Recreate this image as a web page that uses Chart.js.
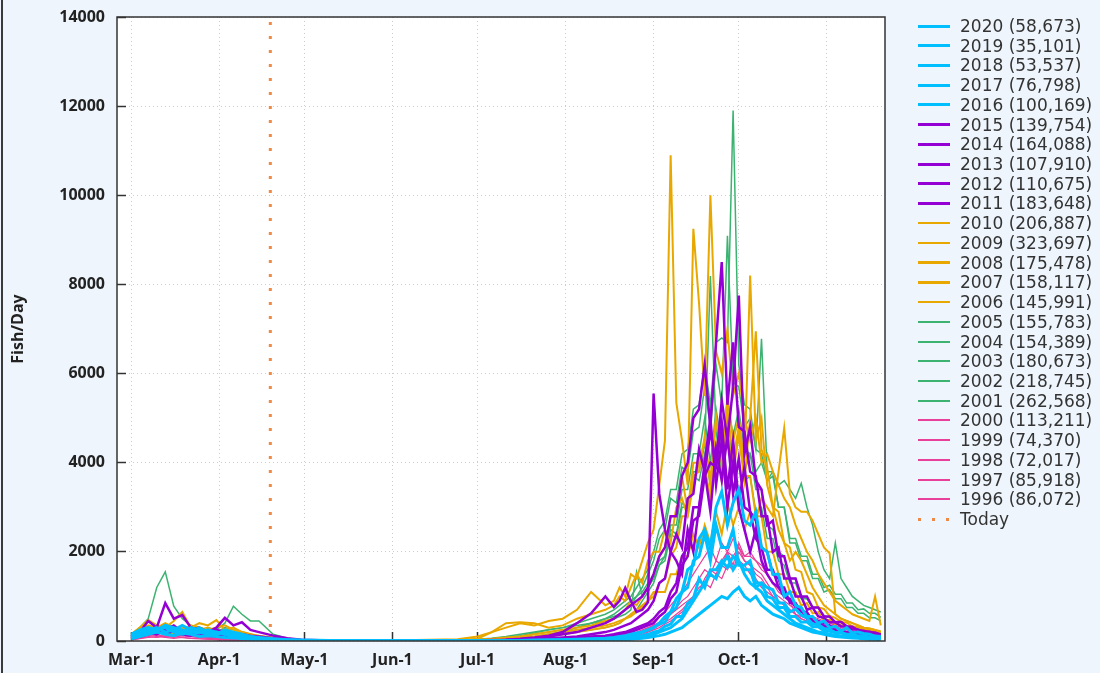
<!DOCTYPE html>
<html>
<head>
<meta charset="utf-8">
<script src="https://cdn.jsdelivr.net/npm/chart.js@4.4.1/dist/chart.umd.min.js"></script>
<style>
  html, body { margin: 0; padding: 0; }
  body { width: 1100px; height: 673px; background: #eef5fc; position: relative; overflow: hidden; font-family: "DejaVu Sans", sans-serif; }
  #wrap { position: absolute; left: 0; top: 0; width: 1100px; height: 673px; }
  #edge { position: absolute; left: 1px; top: 0; width: 2px; height: 673px; background: #3a3a3a; }
  #legend { position: absolute; left: 0; top: 0; }
  .item { position: absolute; left: 918px; width: 182px; height: 20px; }
  .swatch { position: absolute; left: 0; width: 32px; }
  .lbl { position: absolute; left: 42px; top: 0; line-height: 20px; font-size: 17px; color: #333; white-space: nowrap; }
</style>
</head>
<body>
<div id="wrap"><canvas id="chart"></canvas></div>
<div id="edge"></div>
<div id="legend"></div>
<script>
// x values are days counted from Mar-1
const days = [0,3,6,9,12,15,18,21,24,27,30,33,36,39,42,45,50,55,60,70,
  85,100,115,
  122,127,132,137,142,147,152,157,162,167,
  170,172,174,176,178,180,182,184,186,188,190,192,194,196,198,200,202,204,206,208,210,212,214,216,
  218,220,222,224,226,228,230,232,234,236,238,240,242,244,246,248,250,252,254,256,258,260,262,264];

const tickDays = [0,31,61,92,122,153,184,214,245];
const tickLabels = ['Mar-1','Apr-1','May-1','Jun-1','Jul-1','Aug-1','Sep-1','Oct-1','Nov-1'];
const todayDay = 49;

const years = [2020,2019,2018,2017,2016,2015,2014,2013,2012,2011,2010,2009,2008,2007,2006,2005,2004,2003,2002,2001,2000,1999,1998,1997,1996];
const totals = [58673,35101,53537,76798,100169,139754,164088,107910,110675,183648,206887,323697,175478,158117,145991,155783,154389,180673,218745,262568,113211,74370,72017,85918,86072];

const y2020 = [120,200,300,250,350,300,250,200,300,200,150,200,150,120,100,60,40,20,10,5,
  0,0,0, 0,0,0,0,10,10,20,20,30,40,
  40,50,60,80,100,120,150,200, 230,330,380,550,550,850,950,1400, 1200,1600,1600,1800,1650,1900,1750,1600,
  1600,1200,1300,1200,1150,850,850,650, 720,580,520,380,370,280,260,190, 190,150,150,110,110,85,85,70];
const y2019 = [50,100,150,200,150,120,180,150,100,120,100,80,70,50,40,30,20,10,5,0,
  0,0,0, 0,0,0,0,0,10,10,10,20,20,
  20,30,30,40,50,60,80,100, 120,150,200,250,300,400,500,600, 700,800,900,1000,950,1100,1200,1000,
  900,1000,800,700,600,550,500,400, 350,300,250,200,180,150,120,100, 90,80,70,60,50,40,40,30];
const y2018 = [80,150,200,250,300,200,150,200,180,250,200,150,120,100,80,50,30,20,10,5,
  0,0,0, 0,0,0,0,10,10,10,20,20,30,
  30,40,50,60,80,100,120,150, 200,250,300,400,500,700,900,1100, 1300,1500,1400,1700,1900,1600,1800,1500,
  1300,1200,1100,900,800,700,600,500, 400,350,300,250,200,180,150,130, 120,100,90,80,70,60,50,40];
const y2017 = [100,200,250,300,200,250,350,250,200,150,200,150,100,100,80,60,40,20,10,5,
  0,0,0, 0,0,0,10,10,20,20,30,40,50,
  60,70,90,120,150,200,250,300, 380,420,650,750,1100,1200,1800,1900, 2400,1800,2600,2100,2100,2500,1700,1700,
  1800,1300,1300,1000,950,750,750,550, 550,420,430,320,320,230,220,190, 190,140,140,110,110,85,85,70];
const y2016 = [150,250,300,200,350,250,200,300,250,200,150,250,200,150,100,80,50,30,20,10,
  0,0,0, 0,0,10,10,20,20,30,40,50,60,
  80,100,120,150,180,200,250,300, 400,550,650,950,1100,1600,1700,2300, 2500,2100,3000,3350,2600,3100,3400,2700,
  2600,2900,2100,2000,1500,1500,1000,1100, 800,750,550,550,400,450,300,330, 220,300,180,200,170,150,110,100];
const y2015 = [100,200,450,300,850,500,580,300,250,200,300,520,350,420,250,200,120,60,30,10,
  0,0,0, 10,20,30,50,80,120,200,400,620,1000,
  760,900,1190,900,650,700,870,5550, 3300,2500,2000,1800,1500,2500,2000,3000, 4000,5000,3500,4500,3000,4000,3000,2500,
  2000,2500,1800,1500,1300,1200,1000,900, 800,700,600,500,450,400,350,300, 250,200,180,160,140,120,100,80];
const y2014 = [50,150,200,250,300,250,200,300,250,200,150,200,180,150,120,100,60,30,10,5,
  0,0,0, 0,10,20,30,40,60,80,100,150,200,
  250,300,350,400,500,600,700,900, 1300,1400,2000,2400,2100,3200,3300,4300, 3800,4700,4000,5400,4500,5700,7750,4200,
  4800,3600,3400,2600,2700,1900,1900,1400, 1400,1000,1000,750,750,550,550,420, 430,330,320,240,230,190,190,140];
const y2013 = [80,120,200,150,250,200,150,200,150,120,100,150,100,80,60,50,30,20,10,5,
  0,0,0, 0,0,10,20,30,40,60,80,100,120,
  150,180,200,250,300,350,400,500, 650,750,1100,1300,1900,2100,3000,3000, 3800,2900,4300,3600,4600,3300,4100,3000,
  2900,2300,2100,1600,1600,1200,1200,850, 850,650,650,450,420,330,320,230, 210,170,170,130,130,95,95,80];
const y2012 = [60,100,150,200,180,220,150,120,200,150,100,120,90,70,50,40,20,10,5,0,
  0,0,0, 0,0,0,10,20,30,50,70,90,110,
  130,150,180,200,250,300,350,400, 550,650,950,1100,1700,1900,2700,2800, 3700,4000,3900,4900,3400,4500,3100,3900,
  2900,2700,2100,2000,1500,1400,1000,950, 750,700,500,480,350,340,260,250, 190,190,140,140,100,105,85,70];
const y2011 = [70,150,200,300,250,350,200,250,300,200,250,200,150,120,100,80,50,20,10,5,
  0,0,0, 0,10,20,40,60,100,150,200,300,400,
  500,600,700,800,900,1000,1200,1500, 1900,2100,2800,2800,3700,4000,5000,5200, 6200,4800,6700,8500,5300,6700,4800,4700,
  3800,3700,2800,2800,2000,2100,1400,1400, 1000,1000,700,750,550,520,420,420, 330,320,260,260,200,210,170,150];
const y2010 = [100,250,350,300,400,300,250,350,300,250,300,350,250,200,150,100,60,30,10,5,
  0,10,20, 50,200,400,420,400,300,350,500,600,700,
  800,1000,900,1200,1500,1300,1800,2000, 2000,2500,2200,3000,3200,2800,3500,4000, 4500,3500,5000,4000,5500,4500,5000,4000,
  8200,4500,5000,3500,3000,2500,2200,1800, 2000,1800,1500,1200,1000,800,700,600, 500,450,400,350,300,280,250,200];
const y2009 = [150,300,470,350,300,450,650,300,400,350,470,250,300,200,150,120,80,40,20,5,
  10,20,40, 100,200,300,400,350,450,500,700,1100,800,
  900,1200,1000,1500,1400,1800,2200,2500, 3500,4500,10900,5340,4500,3500,9250,7580, 5500,10000,6500,6000,7000,5500,6000,5000,
  4500,5000,4000,4200,3800,3500,3200,3000, 2600,2300,2000,1800,1500,1300,1100,900, 800,700,600,550,500,450,1000,350];
const y2008 = [80,150,200,250,200,300,250,200,250,300,200,150,150,100,80,60,40,20,10,5,
  0,0,10, 30,50,80,100,150,200,250,300,350,450,
  500,600,700,900,800,1000,1200,1500, 1900,2100,2800,2800,3700,2900,4000,4000, 3900,3200,4400,3600,4700,3800,4600,3600,
  5000,6950,4300,3900,3000,2900,2200,2100, 1600,1550,1100,1050,750,720,560,520, 430,410,330,310,270,260,210,200];
const y2007 = [50,120,180,200,250,180,220,150,200,250,180,120,100,80,60,40,20,10,5,0,
  0,0,0, 20,40,60,80,100,150,200,250,300,350,
  400,450,500,600,700,800,900,1100, 1100,1100,1500,1500,1900,1900,2400,2100, 2600,2200,2900,2400,3100,2600,3000,2500,
  2900,2700,3200,3000,2800,3800,4780,3300, 3000,2900,2900,2700,2400,2100,1970,600, 500,450,400,350,300,280,250,220];
const y2006 = [60,100,150,200,250,200,300,250,200,150,200,150,120,100,80,50,30,20,10,5,
  0,0,0, 10,20,40,60,80,100,150,200,250,300,
  350,400,500,550,650,750,900,1000, 1300,1400,1900,2100,2800,2800,3700,3800, 4600,3600,5000,4000,5200,4100,4800,3700,
  3700,2800,2800,2000,2000,1500,1500,1100, 1100,800,850,620,650,450,480,370, 370,280,290,230,230,190,190,150];
const y2005 = [60,120,180,150,200,250,180,150,200,250,200,150,120,100,80,60,40,20,10,5,
  0,0,0, 20,30,50,80,100,150,200,300,400,450,
  500,550,600,700,1550,1000,1200,1400, 1700,1800,2400,2300,3000,3000,3800,3800, 4400,8190,4700,3800,5000,4000,4700,3600,
  3700,2900,3000,2300,2300,1800,1700,1300, 1300,950,950,750,750,570,530,430, 420,330,320,270,260,210,210,170];
const y2004 = [150,300,500,1200,1550,780,500,350,300,250,200,250,200,150,120,80,50,30,10,5,
  0,0,0, 10,20,40,60,80,120,150,200,250,300,
  350,400,500,600,700,900,1100,1300, 1700,1900,2600,2600,3400,3400,4200,4200, 5000,4000,5200,4400,5400,4600,5200,4300,
  4200,3400,3400,2600,2500,2000,1900,1400, 1400,1000,950,750,750,550,530,420, 420,330,310,270,260,210,210,170];
const y2003 = [50,100,150,200,180,150,200,250,200,300,250,400,780,600,450,450,150,60,20,5,
  0,0,10, 30,50,80,120,180,250,300,350,400,500,
  600,700,800,900,1000,1100,1300,1500, 1800,1900,2500,2400,3100,3000,3700,3600, 4200,3500,4400,3700,4700,3900,4600,3800,
  4200,3800,4000,3600,3800,3500,3600,3400, 3200,3540,3000,2600,2000,1600,1400,2200, 1400,1200,1000,900,800,750,700,650];
const y2002 = [80,150,200,300,250,200,300,250,200,150,200,250,200,150,100,80,50,20,10,5,
  0,0,10, 20,40,60,100,150,200,250,300,400,500,
  550,600,700,800,1000,1200,1500,1800, 2300,2500,3200,3100,3900,3800,4700,4800, 5700,4800,6200,5300,9090,5800,5700,4800,
  5000,4300,6780,3800,3800,3000,3000,2200, 2200,1800,1800,1400,1400,1100,1150,950, 950,750,750,620,620,520,520,450];
const y2001 = [100,200,300,250,300,250,200,250,300,250,200,300,250,200,150,100,60,30,10,5,
  0,10,20, 40,60,100,150,200,250,300,400,500,600,
  700,800,900,1000,1200,1400,1600,2000, 2500,2700,3400,3400,4200,4300,5200,5300, 6200,5300,6700,6800,6700,11900,6200,5300,
  5200,4300,4200,3600,3700,3000,3000,2300, 2300,1900,1900,1500,1500,1200,1250,1050, 1050,850,850,700,720,620,620,530];
const y2000 = [60,100,150,200,150,120,150,120,100,80,60,50,40,30,20,10,5,0,0,0,
  0,0,0, 0,0,10,10,20,30,40,60,80,100,
  120,150,180,220,260,300,380,450, 550,650,800,950,1100,1300,1500,1700, 1900,2100,1800,2200,2000,2300,2100,1900,
  2000,1800,1700,1500,1300,1200,1000,900, 800,700,600,550,500,450,400,350, 300,250,220,200,180,160,140,120];
const y1999 = [20,50,80,100,80,60,80,60,50,40,30,20,20,10,10,5,0,0,0,0,
  0,0,0, 0,0,0,0,0,10,10,20,30,40,
  50,60,80,100,120,150,200,250, 300,380,450,550,650,800,950,1100, 1300,1200,1500,1400,1700,1600,2000,1800,
  1700,1500,1400,1200,1000,900,800,700, 600,550,500,450,400,350,300,250, 200,180,160,140,120,100,90,80];
const y1998 = [40,60,100,80,120,100,80,60,50,40,30,30,20,10,10,5,0,0,0,0,
  0,0,0, 0,0,0,0,10,10,20,30,40,50,
  60,80,100,120,150,180,220,280, 350,420,500,600,700,850,1000,1200, 1300,1500,1400,1700,1600,1900,1800,1700,
  1500,1400,1200,1100,1000,900,800,700, 600,500,450,400,350,300,250,200, 180,160,140,120,100,90,80,70];
const y1997 = [30,80,120,150,100,80,120,100,80,60,50,40,30,20,10,10,5,0,0,0,
  0,0,0, 0,0,0,10,10,20,30,40,50,60,
  80,100,120,150,180,220,280,350, 420,500,600,750,900,1000,1200,1400, 1600,1500,1800,1700,2000,1900,2100,1800,
  1700,1600,1500,1300,1100,1000,900,800, 700,600,500,450,400,350,300,250, 200,180,160,140,120,100,90,80];
const y1996 = [50,100,150,120,100,150,120,100,80,100,80,60,50,40,30,20,10,5,0,0,
  0,0,0, 0,0,10,10,20,30,40,50,60,80,
  100,120,150,180,200,250,300,350, 400,500,600,700,800,900,1000,1100, 1400,1600,1500,1800,2000,1700,2200,1900,
  1900,1800,1600,1500,1300,1100,1000,900, 600,500,450,400,350,300,250,200, 180,160,140,120,100,90,80,70];

const series = [y2020,y2019,y2018,y2017,y2016,y2015,y2014,y2013,y2012,y2011,y2010,y2009,y2008,y2007,y2006,
  y2005,y2004,y2003,y2002,y2001,y2000,y1999,y1998,y1997,y1996];

const todayColor = '#ee8a45';

function styleFor(year) {
  if (year >= 2016) return { color: '#00bfff', width: 3, legendWidth: 3 };
  if (year >= 2011) return { color: '#9400d3', width: 2.5, legendWidth: 3 };
  if (year >= 2006) return { color: '#e8a800', width: 2, legendWidth: 2.5 };
  if (year >= 2001) return { color: '#3cb371', width: 1.5, legendWidth: 2 };
  return { color: '#e8409b', width: 1.2, legendWidth: 2 };
}

const datasets = series.map((vals, i) => {
  const st = styleFor(years[i]);
  const pts = [];
  days.forEach((d, k) => { if (vals[k] !== undefined) pts.push({ x: d, y: vals[k] }); });
  return {
    label: years[i] + ' (' + totals[i].toLocaleString('en-US') + ')',
    data: pts,
    borderColor: st.color,
    backgroundColor: st.color,
    borderWidth: st.width,
    pointRadius: 0,
    fill: false
  };
});

datasets.push({
  label: 'Today',
  data: [{ x: todayDay, y: 0 }, { x: todayDay, y: 14000 }],
  borderColor: todayColor,
  borderWidth: 3,
  borderDash: [3, 11],
  pointRadius: 0,
  fill: false
});

const framePlugin = {
  id: 'frame',
  beforeDraw(c) {
    const a = c.chartArea;
    c.ctx.save();
    c.ctx.fillStyle = '#ffffff';
    c.ctx.fillRect(a.left, a.top, a.right - a.left, a.bottom - a.top);
    c.ctx.restore();
  },
  afterDatasetsDraw(c) {
    const a = c.chartArea, ctx = c.ctx;
    ctx.save();
    ctx.strokeStyle = '#333';
    ctx.lineWidth = 1.5;
    ctx.strokeRect(a.left, a.top, a.right - a.left, a.bottom - a.top);
    ctx.restore();
  }
};

const tickFont = { family: '"Open Sans", sans-serif', size: 16, weight: 'bold' };
const gridOpts = { color: '#cccccc', lineWidth: 1, tickLength: -9, tickColor: '#333', tickWidth: 1.5, tickBorderDash: [] };

const chart = new Chart(document.getElementById('chart'), {
  type: 'line',
  data: { datasets: datasets },
  options: {
    responsive: true,
    maintainAspectRatio: false,
    animation: false,
    layout: { padding: { top: 17, right: 215, bottom: 0, left: 0 } },
    elements: { line: { tension: 0 } },
    plugins: { legend: { display: false }, tooltip: { enabled: false } },
    scales: {
      x: {
        type: 'linear',
        min: -5,
        max: 265.5,
        afterBuildTicks: s => { s.ticks = tickDays.map(v => ({ value: v })); },
        afterFit: s => { s.height = 32; },
        grid: gridOpts,
        border: { display: false, dash: [1, 3] },
        ticks: {
          padding: 19,
          color: '#222',
          font: tickFont,
          maxRotation: 0,
          autoSkip: false,
          callback: v => tickLabels[tickDays.indexOf(v)]
        }
      },
      y: {
        min: 0,
        max: 14000,
        // labels sit 12px left of the frame; keep that padding from pushing the plot down
        afterFit: s => { s.width = 117; s.paddingTop = 0; s.paddingBottom = 0; },
        grid: gridOpts,
        border: { display: false, dash: [1, 3] },
        ticks: { stepSize: 2000, padding: 21, color: '#222', font: tickFont, callback: v => String(v) },
        title: {
          display: true,
          text: 'Fish/Day',
          color: '#222',
          font: { family: '"Open Sans", sans-serif', size: 16, weight: 'bold' },
          padding: { top: 9, bottom: 0 }
        }
      }
    }
  },
  plugins: [framePlugin]
});

// legend, built from the same labels and colours
const legend = document.getElementById('legend');
datasets.forEach((ds, i) => {
  const item = document.createElement('div');
  item.className = 'item';
  item.style.top = (26 + i * 19.72 - 10) + 'px';
  const sw = document.createElement('div');
  sw.className = 'swatch';
  if (ds.label === 'Today') {
    sw.style.height = '3px';
    sw.style.top = '8.5px';
    sw.style.background = 'repeating-linear-gradient(to right, ' + todayColor + ' 0 3px, transparent 3px 14px)';
  } else {
    const lw = styleFor(years[i]).legendWidth;
    sw.style.height = lw + 'px';
    sw.style.top = (10 - lw / 2) + 'px';
    sw.style.background = ds.borderColor;
  }
  const lbl = document.createElement('div');
  lbl.className = 'lbl';
  lbl.textContent = ds.label;
  item.appendChild(sw);
  item.appendChild(lbl);
  legend.appendChild(item);
});
</script>
</body>
</html>
